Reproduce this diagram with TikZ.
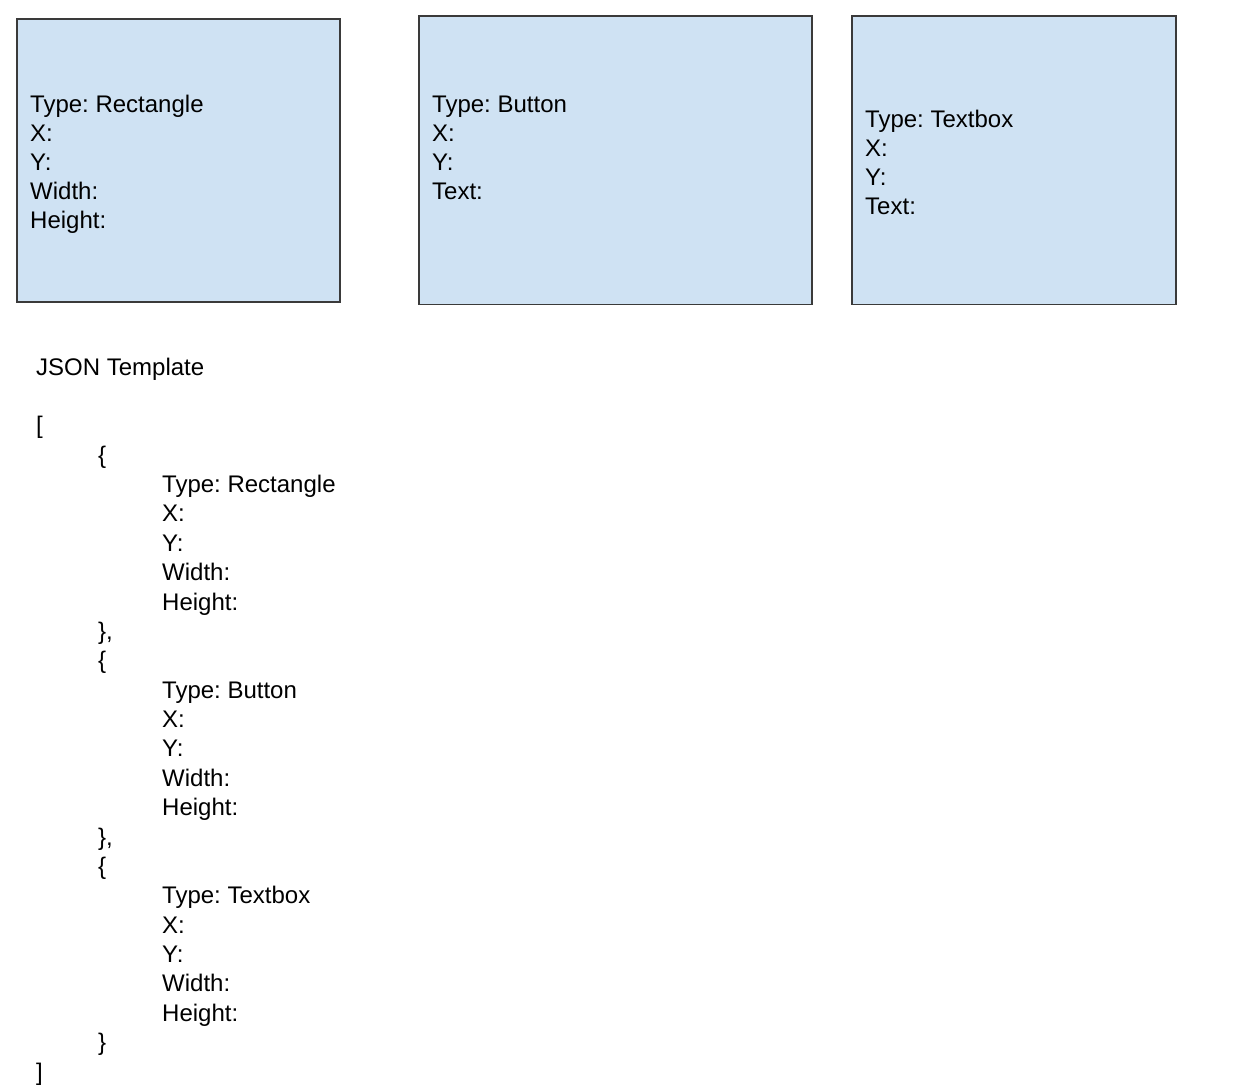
\documentclass[tikz,border=0pt]{standalone}
\usepackage{fontspec}
\setmainfont{Liberation Sans}
\frenchspacing
\definecolor{boxfill}{HTML}{CFE2F3}
\definecolor{boxline}{HTML}{3A3A3A}
\tikzset{
  shapebox/.style={draw=boxline, fill=boxfill, line width=1.3pt},
  txt/.style={anchor=base west, inner sep=0pt, font=\fontsize{24}{29}\selectfont},
}
\begin{document}
\begin{tikzpicture}[x=1pt,y=-1pt]
\useasboundingbox[fill=white] (0,0) rectangle (1234,1087);
% boxes
\draw[shapebox] (17,19) rectangle (340,302) coordinate (b1);
\draw[shapebox] (419,16) rectangle (812,304.5) coordinate (b2);
\draw[shapebox] (852,16) rectangle (1176,304.5) coordinate (b3);
% box 1 text
\node[txt] (r1) at (30,112) {Type: Rectangle};
\node[txt] (r2) at (30,141) {X:};
\node[txt] (r3) at (30,170) {Y:};
\node[txt] (r4) at (30,199) {Width:};
\node[txt] (r5) at (30,228) {Height:};
% box 2 text
\node[txt] (u1) at (432,112) {Type: Button};
\node[txt] (u2) at (432,141) {X:};
\node[txt] (u3) at (432,170) {Y:};
\node[txt] (u4) at (432,199) {Text:};
% box 3 text
\node[txt] (t1) at (865,127) {Type: Textbox};
\node[txt] (t2) at (865,156) {X:};
\node[txt] (t3) at (865,185) {Y:};
\node[txt] (t4) at (865,214) {Text:};
% JSON template
\node[txt] (j0) at (36,{375+29.375*0}) {JSON Template};
\node[txt] (j2) at (36,{375+29.375*2}) {[};
\node[txt] (j3) at (98,{375+29.375*3}) {\{};
\node[txt] (j4) at (162,{375+29.375*4}) {Type: Rectangle};
\node[txt] (j5) at (162,{375+29.375*5}) {X:};
\node[txt] (j6) at (162,{375+29.375*6}) {Y:};
\node[txt] (j7) at (162,{375+29.375*7}) {Width:};
\node[txt] (j8) at (162,{375+29.375*8}) {Height:};
\node[txt] (j9) at (98,{375+29.375*9}) {\},};
\node[txt] (j10) at (98,{375+29.375*10}) {\{};
\node[txt] (j11) at (162,{375+29.375*11}) {Type: Button};
\node[txt] (j12) at (162,{375+29.375*12}) {X:};
\node[txt] (j13) at (162,{375+29.375*13}) {Y:};
\node[txt] (j14) at (162,{375+29.375*14}) {Width:};
\node[txt] (j15) at (162,{375+29.375*15}) {Height:};
\node[txt] (j16) at (98,{375+29.375*16}) {\},};
\node[txt] (j17) at (98,{375+29.375*17}) {\{};
\node[txt] (j18) at (162,{375+29.375*18}) {Type: Textbox};
\node[txt] (j19) at (162,{375+29.375*19}) {X:};
\node[txt] (j20) at (162,{375+29.375*20}) {Y:};
\node[txt] (j21) at (162,{375+29.375*21}) {Width:};
\node[txt] (j22) at (162,{375+29.375*22}) {Height:};
\node[txt] (j23) at (98,{375+29.375*23}) {\}};
\node[txt] (j24) at (36,{375+29.375*24}) {]};
\end{tikzpicture}
\end{document}
